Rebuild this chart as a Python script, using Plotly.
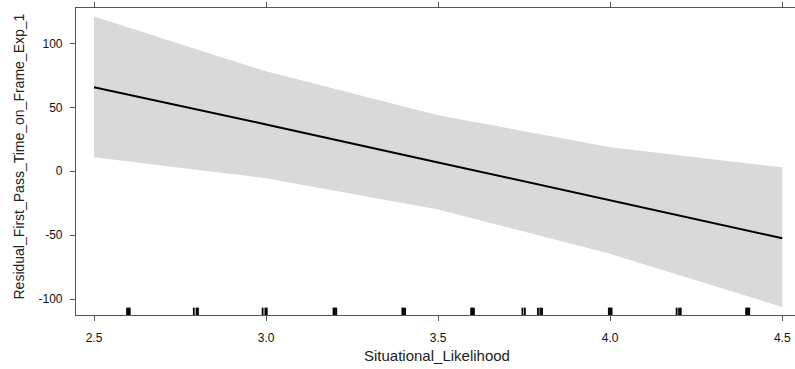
import plotly.graph_objects as go

# Effect estimates
x_vals = [2.5, 3.0, 3.5, 4.0, 4.5]
fit = [65.6, 36.6, 6.9, -22.8, -52.3]
upper = [121.0, 78.1, 43.8, 18.8, 3.1]
lower = [10.9, -5.5, -29.8, -64.5, -106.0]

# Rug of observed Situational_Likelihood values
rug = [2.596, 2.6, 2.604, 2.79, 2.798, 2.802, 2.99, 2.998, 3.002,
       3.196, 3.2, 3.204, 3.396, 3.4, 3.404, 3.596, 3.6, 3.604,
       3.745, 3.752, 3.79, 3.797, 3.802, 3.996, 4.0, 4.004,
       4.193, 4.2, 4.205, 4.395, 4.4, 4.404]

x_ticks = [2.5, 3.0, 3.5, 4.0, 4.5]
x_tick_text = ["2.5", "3.0", "3.5", "4.0", "4.5"]
y_ticks = [-100, -50, 0, 50, 100]
y_tick_text = ["-100", "-50", "0", "50", "100"]

fig = go.Figure()
fig.add_trace(go.Scatter(x=x_vals + x_vals[::-1], y=upper + lower[::-1],
                         fill="toself", fillcolor="#D9D9D9", mode="lines",
                         line=dict(width=0, color="#D9D9D9"), hoverinfo="skip",
                         showlegend=False))
fig.add_trace(go.Scatter(x=x_vals, y=fit, mode="lines",
                         line=dict(color="black", width=2), showlegend=False))

rx, ry = [], []
for v in rug:
    rx += [v, v, None]
    ry += [0, 0.024, None]
fig.add_trace(go.Scatter(x=rx, y=ry, mode="lines", yaxis="y2",
                         line=dict(color="black", width=1.8), showlegend=False,
                         hoverinfo="skip"))

font_family = "Liberation Sans, Arial, sans-serif"
fig.update_layout(
    width=795, height=369,
    margin=dict(l=76, r=0, t=8, b=54),
    plot_bgcolor="white", paper_bgcolor="white",
    font=dict(family=font_family, color="#111", size=12),
    xaxis=dict(range=[2.4477, 4.537], tickvals=x_ticks, ticktext=x_tick_text,
               showgrid=False, zeroline=False, showline=True, linecolor="#555",
               linewidth=1.2, mirror="allticks", ticks="outside", ticklen=5,
               tickcolor="#555", tickwidth=1, ticklabelstandoff=6,
               tickfont=dict(size=12)),
    yaxis=dict(range=[-112.3, 127.6], tickvals=y_ticks, ticktext=y_tick_text,
               showgrid=False, zeroline=False, showline=True, linecolor="#555",
               linewidth=1.2, ticks="outside", ticklen=5, tickcolor="#555",
               tickwidth=1, ticklabelstandoff=5, tickfont=dict(size=12)),
    yaxis2=dict(range=[0, 1], overlaying="y", visible=False, fixedrange=True),
    annotations=[
        dict(text="Situational_Likelihood", xref="paper", yref="paper",
             x=0.502, y=0, yanchor="middle", xanchor="center", yshift=-40,
             showarrow=False, font=dict(size=15, color="#222", family=font_family)),
        dict(text="Residual_First_Pass_Time_on_Frame_Exp_1", xref="paper",
             yref="paper", x=0, y=0.5, xshift=-58, yshift=5, textangle=-90,
             xanchor="center", yanchor="middle", showarrow=False,
             font=dict(size=14, color="#222", family=font_family)),
    ],
)

fig.write_html("out.html")
